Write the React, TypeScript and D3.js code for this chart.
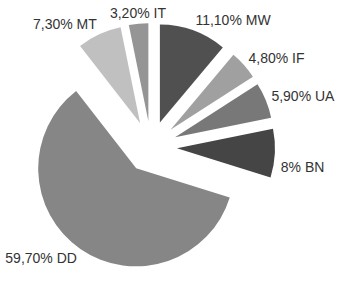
import React, { useEffect } from 'react';
import * as d3 from 'd3';

const categories = ['MW', 'IF', 'UA', 'BN', 'DD', 'MT', 'IT'];
const shares = [11.1, 4.8, 5.9, 8, 59.7, 7.3, 3.2];
const labels = ['11,10% MW', '4,80% IF', '5,90% UA', '8% BN', '59,70% DD', '7,30% MT', '3,20% IT'];
const colors = ['#505050', '#a0a0a0', '#787878', '#454545', '#868686', '#c0c0c0', '#959595'];

const App: React.FC = () => {
  useEffect(() => {
    document.body.style.margin = '0';
  }, []);

  const width = 340, height = 281;
  const cx = 151, cy = 147;
  const radius = 98;
  const explode = 26;

  const pie = d3.pie<number>().sort(null).value(d => d);
  const arcs = pie(shares);
  const arc = d3.arc<d3.PieArcDatum<number>>().innerRadius(0).outerRadius(radius);

  return (
    <svg width={width} height={height} style={{ display: 'block', background: '#fff' }}>
      <g transform={`translate(${cx},${cy})`}>
        {arcs.map((a, i) => {
          const mid = (a.startAngle + a.endAngle) / 2;
          const ox = Math.sin(mid) * explode, oy = -Math.cos(mid) * explode;
          const lr = radius + 6;
          const px = ox + Math.sin(mid) * lr;
          const py = oy - Math.cos(mid) * lr - Math.cos(mid) * 5 + (categories[i] === 'BN' ? 13 : 0);
          const s = Math.sin(mid);
          const anchor = Math.abs(s) < 0.2 ? 'middle' : s > 0 ? 'start' : 'end';
          return (
            <g key={categories[i]}>
              <path d={arc(a) ?? ''} transform={`translate(${ox},${oy})`} fill={colors[i]} />
              <text x={px} y={py} dy="0.35em" textAnchor={anchor}
                fontFamily="Liberation Sans, Arial, sans-serif" fontSize={14} fill="#333">
                {labels[i]}
              </text>
            </g>
          );
        })}
      </g>
    </svg>
  );
};

export default App;
